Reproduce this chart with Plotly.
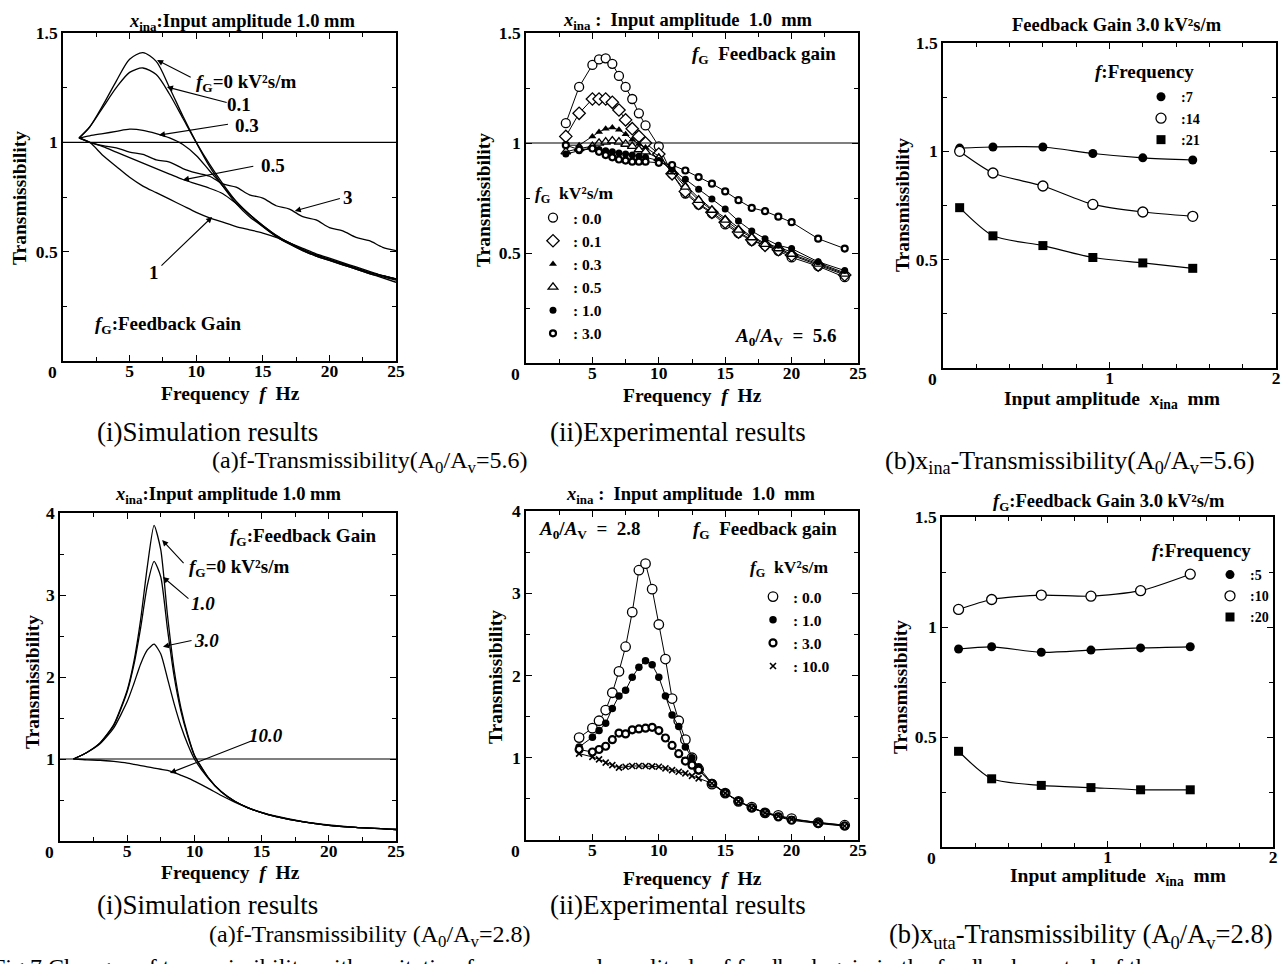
import plotly.graph_objects as go

W, H = 1285, 964
FONT = "Liberation Serif"

# ---------------- data ----------------
# (a)(i) simulation, A0/Av = 5.6
sim1_f = [1.2, 2, 3, 4, 5, 6, 7, 8, 9, 10, 11, 12, 13, 14, 15, 16, 17, 18, 19, 20, 21, 22, 23, 24, 25]
sim1_g0 = [1.02, 1.07, 1.17, 1.28, 1.38, 1.41, 1.37, 1.25, 1.12, 1.0, 0.89, 0.80, 0.72, 0.66, 0.615, 0.57, 0.535, 0.505, 0.48, 0.46, 0.44, 0.42, 0.40, 0.38, 0.36]
sim1_g01 = [1.02, 1.07, 1.16, 1.25, 1.32, 1.34, 1.31, 1.22, 1.11, 1.0, 0.90, 0.81, 0.73, 0.67, 0.615, 0.57, 0.535, 0.505, 0.48, 0.46, 0.44, 0.42, 0.40, 0.385, 0.37]
sim1_g03 = [1.02, 1.03, 1.04, 1.05, 1.06, 1.055, 1.04, 1.02, 0.99, 0.94, 0.87, 0.80, 0.73, 0.67, 0.62, 0.575, 0.54, 0.51, 0.485, 0.465, 0.445, 0.425, 0.405, 0.39, 0.375]
sim1_g05 = [1.02, 1.0, 0.98, 0.955, 0.93, 0.905, 0.88, 0.855, 0.83, 0.81, 0.79, 0.765, 0.72, 0.67, 0.62, 0.575, 0.54, 0.51, 0.485, 0.465, 0.445, 0.425, 0.405, 0.39, 0.375]
sim1_g1 = [1.02, 1.0, 0.94, 0.89, 0.84, 0.80, 0.77, 0.74, 0.71, 0.68, 0.655, 0.635, 0.615, 0.60, 0.585, 0.565, 0.54, 0.515, 0.49, 0.47, 0.45, 0.43, 0.41, 0.39, 0.375]
sim1_g3 = [1.02, 1.0, 0.985, 0.975, 0.955, 0.945, 0.92, 0.91, 0.88, 0.86, 0.845, 0.81, 0.795, 0.76, 0.745, 0.71, 0.695, 0.66, 0.645, 0.61, 0.595, 0.565, 0.55, 0.52, 0.505]

# (a)(ii) experiment, A0/Av = 5.6
exp1_f = [3, 4, 5, 5.5, 6, 6.5, 7, 7.5, 8, 8.5, 9, 10, 11, 12, 13, 14, 15, 16, 17, 18, 19, 20, 22, 24]
exp1_g00 = [1.09, 1.255, 1.355, 1.38, 1.385, 1.36, 1.305, 1.255, 1.20, 1.135, 1.08, 0.985, 0.86, 0.77, 0.72, 0.68, 0.63, 0.59, 0.555, 0.535, 0.51, 0.48, 0.44, 0.39]
exp1_g01 = [1.03, 1.135, 1.20, 1.20, 1.20, 1.185, 1.15, 1.105, 1.065, 1.03, 1.0, 0.95, 0.86, 0.78, 0.725, 0.685, 0.64, 0.595, 0.56, 0.535, 0.515, 0.49, 0.445, 0.40]
exp1_g03 = [0.99, 0.99, 1.03, 1.05, 1.065, 1.07, 1.06, 1.04, 1.015, 0.995, 0.98, 0.94, 0.88, 0.81, 0.75, 0.70, 0.66, 0.615, 0.575, 0.545, 0.525, 0.505, 0.455, 0.41]
exp1_g05 = [0.96, 0.975, 0.985, 1.0, 1.005, 1.01, 1.005, 0.995, 0.985, 0.97, 0.96, 0.93, 0.87, 0.80, 0.74, 0.695, 0.65, 0.605, 0.57, 0.54, 0.52, 0.495, 0.45, 0.405]
exp1_g10 = [0.95, 0.965, 0.975, 0.97, 0.965, 0.96, 0.955, 0.95, 0.945, 0.94, 0.935, 0.92, 0.88, 0.835, 0.79, 0.745, 0.70, 0.645, 0.60, 0.565, 0.535, 0.52, 0.46, 0.42]
exp1_g30 = [0.99, 0.97, 0.975, 0.96, 0.945, 0.935, 0.925, 0.92, 0.915, 0.915, 0.915, 0.91, 0.90, 0.875, 0.845, 0.815, 0.78, 0.74, 0.705, 0.69, 0.665, 0.64, 0.565, 0.52]

# (b) amplitude, A0/Av = 5.6
amp_x = [0.1, 0.3, 0.6, 0.9, 1.2, 1.5]
amp1_f7 = [1.015, 1.02, 1.02, 0.99, 0.97, 0.96]
amp1_f14 = [1.0, 0.90, 0.84, 0.755, 0.72, 0.70]
amp1_f21 = [0.74, 0.61, 0.565, 0.51, 0.485, 0.46]

# (a)(i) simulation, A0/Av = 2.8
sim2_f = [1, 2, 3, 4, 5, 5.5, 6, 6.5, 7, 7.5, 8, 8.5, 9, 9.5, 10, 11, 12, 13, 14, 15, 16, 18, 20, 22, 25]
sim2_g0 = [1.0, 1.08, 1.20, 1.42, 1.84, 2.19, 2.70, 3.35, 3.85, 3.55, 2.75, 2.08, 1.62, 1.30, 1.05, 0.78, 0.60, 0.485, 0.405, 0.345, 0.30, 0.235, 0.19, 0.165, 0.14]
sim2_g1 = [1.0, 1.08, 1.20, 1.41, 1.82, 2.15, 2.60, 3.12, 3.41, 3.22, 2.58, 2.00, 1.58, 1.28, 1.04, 0.78, 0.60, 0.485, 0.405, 0.345, 0.30, 0.235, 0.19, 0.165, 0.14]
sim2_g3 = [1.0, 1.08, 1.19, 1.38, 1.70, 1.92, 2.16, 2.33, 2.40, 2.28, 1.98, 1.67, 1.40, 1.18, 1.0, 0.77, 0.60, 0.485, 0.405, 0.345, 0.30, 0.235, 0.19, 0.165, 0.14]
sim2_g10 = [1.0, 0.99, 0.985, 0.97, 0.95, 0.935, 0.92, 0.905, 0.89, 0.875, 0.86, 0.835, 0.80, 0.77, 0.73, 0.645, 0.555, 0.475, 0.405, 0.35, 0.305, 0.24, 0.195, 0.165, 0.14]

# (a)(ii) experiment, A0/Av = 2.8
exp2_f = [4, 5, 5.5, 6, 6.5, 7, 7.5, 8, 8.5, 9, 9.5, 10, 10.5, 11, 11.5, 12, 12.5, 13, 14, 15, 16, 17, 18, 19, 20, 22, 24]
exp2_g00 = [1.245, 1.36, 1.45, 1.58, 1.79, 2.05, 2.35, 2.77, 3.28, 3.36, 3.05, 2.62, 2.20, 1.72, 1.45, 1.22, 1.0, 0.86, 0.68, 0.57, 0.47, 0.40, 0.33, 0.30, 0.26, 0.21, 0.18]
exp2_g10 = [1.13, 1.25, 1.33, 1.42, 1.60, 1.75, 1.82, 1.98, 2.10, 2.18, 2.13, 1.98, 1.75, 1.52, 1.38, 1.13, 1.0, 0.89, 0.69, 0.575, 0.475, 0.385, 0.34, 0.29, 0.25, 0.215, 0.18]
exp2_g30 = [1.10, 1.07, 1.10, 1.14, 1.22, 1.30, 1.29, 1.34, 1.35, 1.36, 1.37, 1.33, 1.24, 1.15, 1.05, 0.96, 0.91, 0.85, 0.69, 0.57, 0.47, 0.39, 0.33, 0.28, 0.24, 0.20, 0.17]
exp2_g100 = [1.05, 1.01, 0.98, 0.94, 0.91, 0.88, 0.89, 0.90, 0.90, 0.90, 0.895, 0.89, 0.87, 0.85, 0.83, 0.81, 0.78, 0.75, 0.69, 0.57, 0.47, 0.39, 0.33, 0.29, 0.25, 0.21, 0.17]

# (b) amplitude, A0/Av = 2.8
amp2_f5 = [0.90, 0.91, 0.885, 0.895, 0.905, 0.91]
amp2_f10 = [1.08, 1.125, 1.145, 1.14, 1.165, 1.24]
amp2_f20 = [0.435, 0.31, 0.28, 0.27, 0.26, 0.26]

# ---------------- layout helpers ----------------
def px(x):
    return x / W

def py(y):
    return 1 - y / H

# plot-area pixel boxes (left, right, top, bottom)
boxes = {
    1: (63, 396, 33, 361),
    2: (526, 858, 33, 363),
    3: (943, 1276, 43, 368),
    4: (60, 396, 513, 841),
    5: (526, 858, 511, 840),
    6: (942, 1273, 517, 847),
}

fig = go.Figure()
BLK = "black"
tickfont = dict(family=FONT, size=17.5, color=BLK, weight="bold")

def axes(n, xr, yr, xticks, xminor, yticks, yminor):
    l, r, t, b = boxes[n]
    ax = dict(domain=[px(l), px(r)], range=xr, showline=True, linecolor=BLK, linewidth=1.6,
              mirror="ticks", ticks="inside", ticklen=6, tickwidth=1.2, tickcolor=BLK,
              tickvals=xticks, ticktext=[("%g" % v) for v in xticks], ticklabelstandoff=-7,
              minor=dict(ticks="inside", ticklen=4, dtick=xminor, tickcolor=BLK, showgrid=False),
              showgrid=False, zeroline=False, tickfont=tickfont, anchor="y%d" % n, fixedrange=True)
    ay = dict(domain=[py(b), py(t)], range=yr, showline=True, linecolor=BLK, linewidth=1.6,
              mirror="ticks", ticks="inside", ticklen=6, tickwidth=1.2, tickcolor=BLK,
              tickvals=yticks, ticktext=[("%g" % v) for v in yticks],
              minor=dict(ticks="inside", ticklen=4, dtick=yminor, tickcolor=BLK, showgrid=False),
              showgrid=False, zeroline=False, tickfont=tickfont, anchor="x%d" % n, fixedrange=True)
    key = "" if n == 1 else str(n)
    fig.update_layout(**{"xaxis" + key: ax, "yaxis" + key: ay})

axes(1, [0, 25], [0, 1.5], [5, 10, 15, 20, 25], 2.5, [0.5, 1, 1.5], 0.25)
axes(2, [0, 25], [0, 1.5], [5, 10, 15, 20, 25], 2.5, [0.5, 1, 1.5], 0.25)
axes(3, [0, 2], [0, 1.5], [1, 2], 0.2, [0.5, 1, 1.5], 0.25)
axes(4, [0, 25], [0, 4], [5, 10, 15, 20, 25], 2.5, [1, 2, 3, 4], 0.5)
axes(5, [0, 25], [0, 4], [5, 10, 15, 20, 25], 2.5, [1, 2, 3, 4], 0.5)
axes(6, [0, 2], [0, 1.5], [1, 2], 0.2, [0.5, 1, 1.5], 0.25)

def xa(n):
    return "x" if n == 1 else "x%d" % n

def ya(n):
    return "y" if n == 1 else "y%d" % n

# ---------------- traces ----------------
for ys in [sim1_g0, sim1_g01, sim1_g03, sim1_g05, sim1_g1, sim1_g3]:
    fig.add_trace(go.Scatter(x=sim1_f, y=ys, mode="lines", line=dict(color=BLK, width=1.3, shape="spline", smoothing=0.8),
                             xaxis="x", yaxis="y", showlegend=False))

for ys in [sim2_g0, sim2_g1, sim2_g3, sim2_g10]:
    fig.add_trace(go.Scatter(x=sim2_f, y=ys, mode="lines", line=dict(color=BLK, width=1.3, shape="spline", smoothing=0.6),
                             xaxis="x4", yaxis="y4", showlegend=False))

def open_m(sym, size, w=1.3):
    return dict(symbol=sym, size=size, color="white", line=dict(color=BLK, width=w))

def fill_m(sym, size):
    return dict(symbol=sym, size=size, color=BLK, line=dict(color=BLK, width=0))

exp1 = [
    (exp1_g00, open_m("circle", 9), ": 0.0"),
    (exp1_g01, open_m("diamond", 9.5), ": 0.1"),
    (exp1_g03, fill_m("triangle-up", 7), ": 0.3"),
    (exp1_g05, open_m("triangle-up", 8.5), ": 0.5"),
    (exp1_g10, fill_m("circle", 7), ": 1.0"),
    (exp1_g30, open_m("circle", 6, 2.2), ": 3.0"),
]
for ys, m, name in exp1:
    fig.add_trace(go.Scatter(x=exp1_f, y=ys, mode="lines+markers", line=dict(color=BLK, width=1), marker=m,
                             xaxis="x2", yaxis="y2", showlegend=False))
for ys, m, name in exp1:
    fig.add_trace(go.Scatter(x=[None], y=[None], mode="markers", marker=m, name=name,
                             xaxis="x2", yaxis="y2", legend="legend"))

exp2 = [
    (exp2_g00, open_m("circle", 9.5), ": 0.0"),
    (exp2_g10, fill_m("circle", 7.5), ": 1.0"),
    (exp2_g30, open_m("circle", 7, 2.2), ": 3.0"),
    (exp2_g100, dict(symbol="x-thin-open", size=6, color=BLK, line=dict(color=BLK, width=1.6)), ": 10.0"),
]
for ys, m, name in exp2:
    fig.add_trace(go.Scatter(x=exp2_f, y=ys, mode="lines+markers", line=dict(color=BLK, width=1), marker=m,
                             xaxis="x5", yaxis="y5", showlegend=False))
for ys, m, name in exp2:
    fig.add_trace(go.Scatter(x=[None], y=[None], mode="markers", marker=m, name=name,
                             xaxis="x5", yaxis="y5", legend="legend2"))

amp1 = [
    (amp1_f7, fill_m("circle", 9), ":7"),
    (amp1_f14, open_m("circle", 10), ":14"),
    (amp1_f21, fill_m("square", 9), ":21"),
]
for ys, m, name in amp1:
    fig.add_trace(go.Scatter(x=amp_x, y=ys, mode="lines+markers", line=dict(color=BLK, width=1.2, shape="spline", smoothing=0.7),
                             marker=m, xaxis="x3", yaxis="y3", showlegend=False))
for ys, m, name in amp1:
    fig.add_trace(go.Scatter(x=[None], y=[None], mode="markers", marker=m, name=name,
                             xaxis="x3", yaxis="y3", legend="legend3"))

amp2 = [
    (amp2_f5, fill_m("circle", 9), ":5"),
    (amp2_f10, open_m("circle", 10), ":10"),
    (amp2_f20, fill_m("square", 9), ":20"),
]
for ys, m, name in amp2:
    fig.add_trace(go.Scatter(x=amp_x, y=ys, mode="lines+markers", line=dict(color=BLK, width=1.2, shape="spline", smoothing=0.7),
                             marker=m, xaxis="x6", yaxis="y6", showlegend=False))
for ys, m, name in amp2:
    fig.add_trace(go.Scatter(x=[None], y=[None], mode="markers", marker=m, name=name,
                             xaxis="x6", yaxis="y6", legend="legend4"))

# reference lines at transmissibility 1
for n in [1, 2, 4]:
    fig.add_shape(type="line", xref=xa(n) + " domain", yref=ya(n), x0=0, x1=1, y0=1, y1=1,
                  line=dict(color=BLK, width=1.2))

# ---------------- legends ----------------
def lf(size):
    return dict(family=FONT, size=size, color=BLK, weight="bold")

GI = "<i>f</i><sub>G</sub>"
common = dict(xanchor="left", yanchor="top", bgcolor="rgba(0,0,0,0)", itemwidth=30,
              tracegroupgap=0, itemsizing="trace", borderwidth=0)
fig.update_layout(
    legend=dict(x=px(533), y=py(201), font=lf(15.5), **common),
    legend2=dict(x=px(753), y=py(580), font=lf(15.5), **common),
    legend3=dict(x=px(1141), y=py(81), font=lf(14.2), **common),
    legend4=dict(x=px(1210), y=py(559), font=lf(14), **common),
)

# ---------------- annotations ----------------
ann = []
AS = 19  # in-plot annotation size
TS = 18.5  # panel title size

def txt(x, y, s, n=None, xanchor="center", yanchor="middle", size=AS, weight="bold", italic=False):
    f = dict(family=FONT, size=size, color=BLK, weight=weight)
    if italic:
        f["style"] = "italic"
    if n is None:
        ann.append(dict(x=px(x), y=py(y), xref="paper", yref="paper", text=s, showarrow=False,
                        xanchor=xanchor, yanchor=yanchor, font=f))
    else:
        ann.append(dict(x=x, y=y, xref=xa(n), yref=ya(n), text=s, showarrow=False,
                        xanchor=xanchor, yanchor=yanchor, font=f))

def arrow(n, tail, tip):
    ann.append(dict(x=tip[0], y=tip[1], ax=tail[0], ay=tail[1], xref=xa(n), yref=ya(n),
                    axref=xa(n), ayref=ya(n), text="", showarrow=True, arrowhead=2,
                    arrowsize=1.1, arrowwidth=1.1, arrowcolor=BLK, standoff=0, startstandoff=0))

XI = "<i>x</i><sub>ina</sub>"

# panel 1
txt(242, 22, XI + ":Input amplitude 1.0 mm", size=TS)
txt(9.8, 1.27, GI + "=0 kV²s/m", 1, xanchor="left")
arrow(1, (9.7, 1.294), (7.06, 1.376))
txt(13.2, 1.172, "0.1", 1)
arrow(1, (12.4, 1.18), (7.8, 1.253))
txt(13.8, 1.075, "0.3", 1)
arrow(1, (12.5, 1.084), (7.2, 1.033))
txt(15.8, 0.896, "0.5", 1)
arrow(1, (14.4, 0.892), (9.0, 0.828))
txt(21.4, 0.75, "3", 1)
arrow(1, (20.9, 0.745), (17.4, 0.686))
txt(6.83, 0.407, "1", 1)
arrow(1, (7.28, 0.43), (11.2, 0.659))
txt(2.25, 0.165, GI + ":Feedback Gain", 1, xanchor="left")

# panel 2
txt(688, 21, XI + " :  Input amplitude  1.0  mm", size=TS)
txt(23.5, 1.4, GI + "  Feedback gain", 2, xanchor="right")
txt(23.6, 0.118, "<i>A</i><sub>0</sub>/<i>A</i><sub>V</sub>  =  5.6", 2, xanchor="right")
txt(533, 195, GI + "  kV²s/m", xanchor="left", size=17.5)

# panel 3
txt(1117, 25, "Feedback Gain 3.0 kV²s/m", size=TS)
txt(1093, 72, "<i>f</i>:Frequency", xanchor="left", size=19)

# panel 4
txt(228, 496, XI + ":Input amplitude 1.0 mm", size=TS)
txt(23.66, 3.71, GI + ":Feedback Gain", 4, xanchor="right")
txt(9.45, 3.33, GI + "=0 kV²s/m", 4, xanchor="left")
arrow(4, (9.3, 3.37), (7.6, 3.67))
txt(10.64, 2.9, "1.0", 4, italic=True)
arrow(4, (9.67, 2.94), (7.66, 3.22))
txt(10.9, 2.45, "3.0", 4, italic=True)
arrow(4, (9.9, 2.45), (7.66, 2.37))
txt(15.3, 1.29, "10.0", 4, italic=True)
arrow(4, (14.4, 1.23), (8.18, 0.83))

# panel 5
txt(691, 496, XI + " :  Input amplitude  1.0  mm", size=TS)
txt(0.83, 3.77, "<i>A</i><sub>0</sub>/<i>A</i><sub>V</sub>  =  2.8", 5, xanchor="left")
txt(23.6, 3.77, GI + "  Feedback gain", 5, xanchor="right")
txt(748, 568, GI + "  kV²s/m", xanchor="left", size=17.5)

# panel 6
txt(1109, 502, GI + ":Feedback Gain 3.0 kV²s/m", size=TS)
txt(1150, 550, "<i>f</i>:Frequency", xanchor="left", size=19)

# origin "0" labels
for n in range(1, 7):
    ann.append(dict(x=0, y=0, xref=xa(n), yref=ya(n), text="0", showarrow=False, xanchor="right",
                    yanchor="top", xshift=-4, yshift=1, font=tickfont))

# axis titles
for (cx, cy) in [(230, 393), (692, 395), (230, 872), (692, 878)]:
    txt(cx, cy, "Frequency  <i>f</i>  Hz", size=19.5)
for (cx, cy) in [(1112, 400), (1118, 877)]:
    txt(cx, cy, "Input amplitude  " + XI + "  mm", size=19.5)
for (cx, cy) in [(20, 198), (483, 200), (902, 205), (32, 682), (495, 677), (900, 687)]:
    ann.append(dict(x=px(cx), y=py(cy), xref="paper", yref="paper", text="Transmissibility",
                    showarrow=False, textangle=-90, xanchor="center", yanchor="middle",
                    font=dict(family=FONT, size=19.5, color=BLK, weight="bold")))

# captions
A0AV = "A<sub>0</sub>/A<sub>v</sub>"
txt(207, 432, "(i)Simulation results", size=27, weight="normal")
txt(678, 432, "(ii)Experimental results", size=27, weight="normal")
txt(369, 462, "(a)f-Transmissibility(" + A0AV + "=5.6)", size=24, weight="normal")
txt(1070, 462, "(b)x<sub>ina</sub>-Transmissibility(" + A0AV + "=5.6)", size=26, weight="normal")
txt(207, 905, "(i)Simulation results", size=27, weight="normal")
txt(678, 905, "(ii)Experimental results", size=27, weight="normal")
txt(370, 936, "(a)f-Transmissibility (" + A0AV + "=2.8)", size=24, weight="normal")
txt(1080, 936, "(b)x<sub>uta</sub>-Transmissibility (" + A0AV + "=2.8)", size=26.5, weight="normal")
txt(-10, 967, "Fig.7 Changes of transmissibility with excitation frequency and amplitude of feedback gain in the feedback control of the",
    xanchor="left", size=24, weight="normal")

fig.update_layout(
    width=W, height=H, margin=dict(l=0, r=0, t=0, b=0, autoexpand=False),
    paper_bgcolor="white", plot_bgcolor="white",
    font=dict(family=FONT, color=BLK),
    annotations=ann, showlegend=True,
)

fig.write_html("out.html", config={"displayModeBar": False})
